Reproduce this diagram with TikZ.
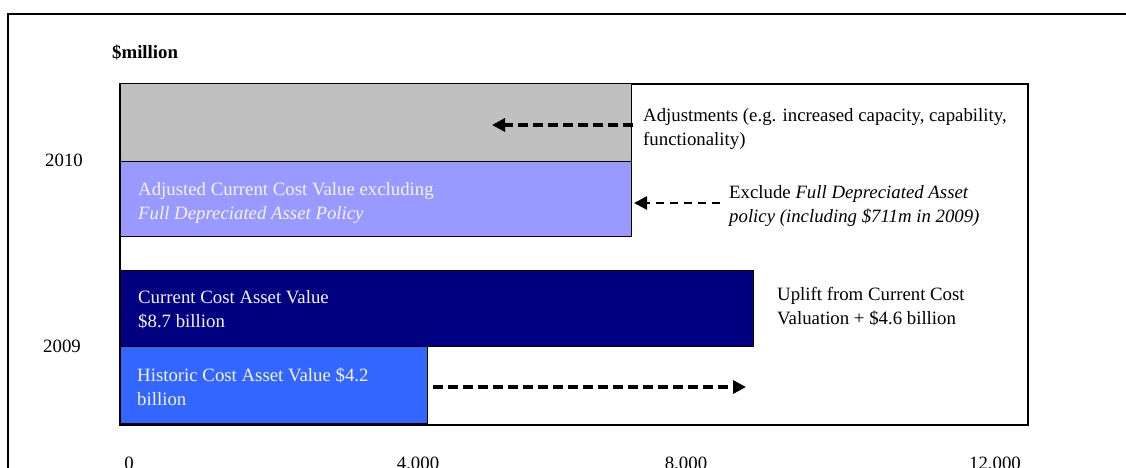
\documentclass[tikz,border=0pt]{standalone}
\usepackage{fontspec}
\setmainfont{Liberation Serif}
\usetikzlibrary{arrows.meta}
\definecolor{bargray}{HTML}{C0C0C0}
\definecolor{barpurple}{HTML}{9999FF}
\definecolor{barnavy}{HTML}{000080}
\definecolor{barblue}{HTML}{3366FF}
\definecolor{bartext}{HTML}{F4F4FF}
\tikzset{
  txt/.style={inner sep=0pt, align=left, font=\fontsize{18.8}{24}\selectfont},
  bar/.style={draw=black, line width=1pt},
  thickarrow/.style={line width=4pt, dash pattern=on 10pt off 5pt, -{Triangle[length=13pt,width=13pt]}},
  thinarrow/.style={line width=2.5pt, dash pattern=on 8pt off 6pt, -{Triangle[length=13pt,width=13pt]}},
}
\begin{document}
\begin{tikzpicture}[x=1pt,y=-1pt]
\useasboundingbox (0,0) rectangle (1126,468);
\fill[white] (0,0) rectangle (1126,468);
% outer frame
\draw[line width=2pt] (8,468) -- (8,14) -- (1126,14);
% plot box
\draw[line width=2pt] (120,84) rectangle (1028,425);
% bars
\draw[bar, fill=bargray] (120,84) rectangle (631,161);
\draw[bar, fill=barpurple] (120,161) rectangle (631,236);
\draw[bar, fill=barnavy] (120,270) rectangle (753,346);
\draw[bar, fill=barblue] (120,346) rectangle (427,423);
% title
\node[txt, anchor=base west, font=\fontsize{18.8}{24}\selectfont\bfseries] (unit) at (112,59) {\$million};
% years
\node[txt, anchor=base west] (y2010) at (45,166) {2010};
\node[txt, anchor=base west] (y2009) at (43,352) {2009};
% bar texts
\node[txt, anchor=north west, text=bartext] (adjcc) at (138,182) {Adjusted Current Cost Value excluding\\\textit{Full Depreciated Asset Policy}};
\node[txt, anchor=north west, text=bartext] (ccav) at (138,290) {Current Cost Asset Value\\\$8.7 billion};
\node[txt, anchor=north west, text=bartext] (hcav) at (137,368) {Historic Cost Asset Value \$4.2\\billion};
% side texts
\node[txt, anchor=north west] (adjtxt) at (643,108) {Adjustments (e.g. increased capacity, capability,\\functionality)};
\node[txt, anchor=north west] (exctxt) at (729,185) {Exclude \textit{Full Depreciated Asset}\\\textit{policy (including \$711m in 2009)}};
\node[txt, anchor=north west] (upltxt) at (777,287) {Uplift from Current Cost\\Valuation + \$4.6 billion};
% axis labels
\node[txt, anchor=base] (t0) at (129,469) {0};
\node[txt, anchor=base] (t4) at (418,469) {4,000};
\node[txt, anchor=base] (t8) at (686,469) {8,000};
\node[txt, anchor=base] (t12) at (995,469) {12,000};
% arrows
\coordinate (a1s) at (633,125);
\coordinate (a1e) at (492,125);
\coordinate (a2s) at (720,203);
\coordinate (a2e) at (634,203);
\coordinate (a3s) at (433,387);
\coordinate (a3e) at (746,387);
\draw[thickarrow] (a1s) -- (a1e);
\draw[thinarrow] (a2s) -- (a2e);
\draw[thickarrow] (a3s) -- (a3e);
\end{tikzpicture}
\end{document}
